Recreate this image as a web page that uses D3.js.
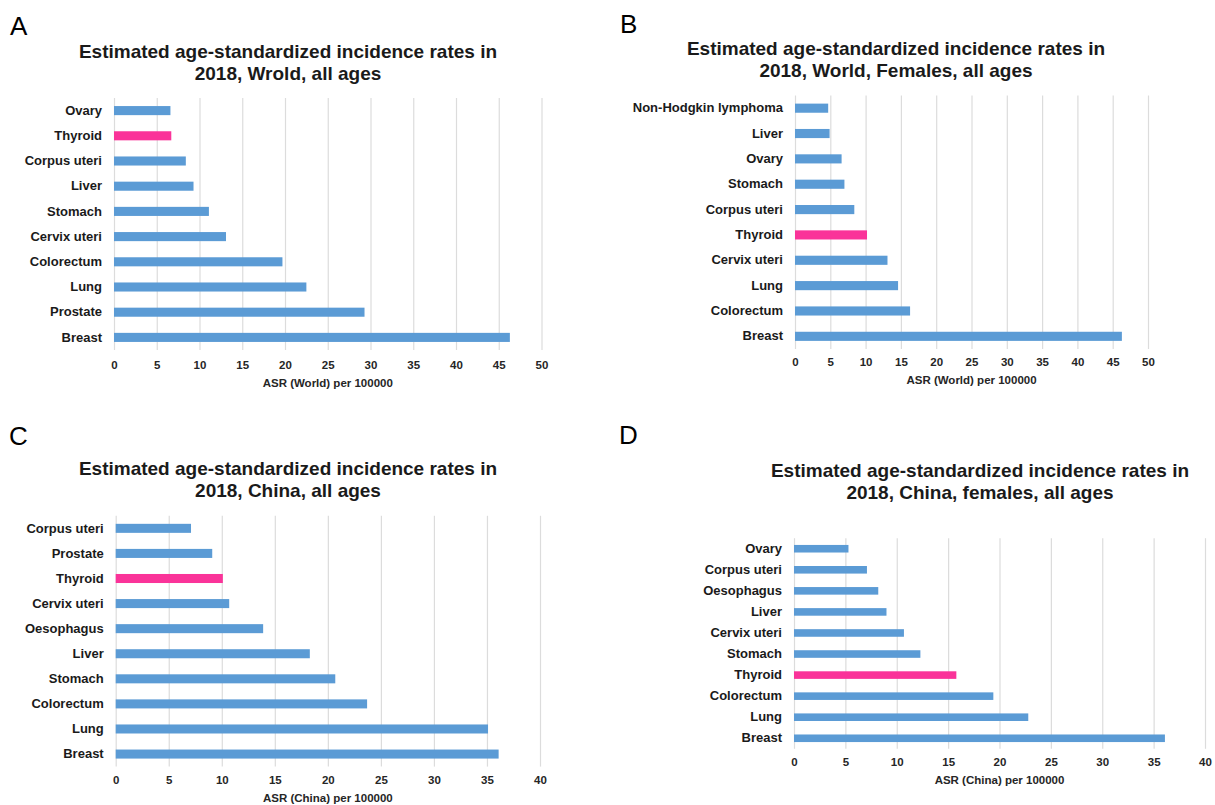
<!DOCTYPE html>
<html>
<head>
<meta charset="utf-8">
<script src="https://cdn.jsdelivr.net/npm/d3@7"></script>
<style>
  html, body { margin: 0; padding: 0; background: #ffffff; }
  svg { display: block; }
  text { font-family: "Liberation Sans", Arial, Helvetica, sans-serif; }
</style>
</head>
<body>
<svg id="chart" width="1215" height="805"></svg>
<script>
// Estimated age-standardized incidence rates (ASR per 100000), 2018.
// Categories are listed top to bottom as drawn.

const categoriesA = ["Ovary", "Thyroid", "Corpus uteri", "Liver", "Stomach", "Cervix uteri", "Colorectum", "Lung", "Prostate", "Breast"];
const valuesA     = [6.6, 6.7, 8.4, 9.3, 11.1, 13.1, 19.7, 22.5, 29.3, 46.3];

const categoriesB = ["Non-Hodgkin lymphoma", "Liver", "Ovary", "Stomach", "Corpus uteri", "Thyroid", "Cervix uteri", "Lung", "Colorectum", "Breast"];
const valuesB     = [4.7, 4.9, 6.6, 7.0, 8.4, 10.2, 13.1, 14.6, 16.3, 46.3];

const categoriesC = ["Corpus uteri", "Prostate", "Thyroid", "Cervix uteri", "Oesophagus", "Liver", "Stomach", "Colorectum", "Lung", "Breast"];
const valuesC     = [7.1, 9.1, 10.1, 10.7, 13.9, 18.3, 20.7, 23.7, 35.1, 36.1];

const categoriesD = ["Ovary", "Corpus uteri", "Oesophagus", "Liver", "Cervix uteri", "Stomach", "Thyroid", "Colorectum", "Lung", "Breast"];
const valuesD     = [5.3, 7.1, 8.2, 9.0, 10.7, 12.3, 15.8, 19.4, 22.8, 36.1];

const ticksWorld = [0, 5, 10, 15, 20, 25, 30, 35, 40, 45, 50];
const ticksChina = [0, 5, 10, 15, 20, 25, 30, 35, 40];

const titleLine1 = "Estimated age-standardized incidence rates in";
const titlesLine2 = ["2018, Wrold, all ages", "2018, World, Females, all ages", "2018, China, all ages", "2018, China, females, all ages"];
const panelLetters = ["A", "B", "C", "D"];
const axisTitles = ["ASR (World) per 100000", "ASR (World) per 100000", "ASR (China) per 100000", "ASR (China) per 100000"];
const highlighted = "Thyroid";

const BAR_BLUE = "#5b9bd5";
const BAR_PINK = "#fa3399";
const GRID = "#dcdcdc";
const INK = "#1a1a1a";

// Panel geometry (plot box and decorations)
const panels = [
  { cats: categoriesA, vals: valuesA, ticks: ticksWorld, x0: 114, x1: 541.5, top: 98, bottom: 350,
    letterX: 10, letterY: 35, titleX: 288, titleY: 58, tickY: 369, axisTitleY: 387 },
  { cats: categoriesB, vals: valuesB, ticks: ticksWorld, x0: 795, x1: 1148, top: 95.5, bottom: 349,
    letterX: 620, letterY: 33, titleX: 896, titleY: 55, tickY: 366, axisTitleY: 384 },
  { cats: categoriesC, vals: valuesC, ticks: ticksChina, x0: 115.7, x1: 540, top: 515.8, bottom: 766.6,
    letterX: 9, letterY: 445, titleX: 288, titleY: 475, tickY: 784, axisTitleY: 802 },
  { cats: categoriesD, vals: valuesD, ticks: ticksChina, x0: 794, x1: 1205, top: 538.2, bottom: 748.8,
    letterX: 619, letterY: 444, titleX: 980, titleY: 477, tickY: 766, axisTitleY: 784 }
];

const svg = d3.select("#chart");

panels.forEach((p, i) => {
  const g = svg.append("g");
  const rows = p.cats.map((c, k) => ({ cat: c, val: p.vals[k] }));

  const x = d3.scaleLinear()
    .domain([0, p.ticks[p.ticks.length - 1]])
    .range([p.x0, p.x1]);

  const y = d3.scaleBand()
    .domain(p.cats)
    .range([p.top, p.bottom])
    .paddingInner(0.64)
    .paddingOuter(0.32);

  // vertical gridlines
  g.append("g")
    .attr("transform", `translate(0,${p.bottom})`)
    .call(d3.axisBottom(x).tickValues(p.ticks).tickSize(-(p.bottom - p.top)).tickFormat(""))
    .call(a => a.select(".domain").remove())
    .call(a => a.selectAll(".tick line").attr("stroke", GRID).attr("stroke-width", 1.2));

  // bars
  g.append("g")
    .selectAll("rect")
    .data(rows)
    .join("rect")
    .attr("x", x(0))
    .attr("y", d => y(d.cat))
    .attr("width", d => x(d.val) - x(0))
    .attr("height", y.bandwidth())
    .attr("fill", d => d.cat === highlighted ? BAR_PINK : BAR_BLUE);

  // category labels
  g.append("g")
    .attr("transform", `translate(${p.x0},0)`)
    .call(d3.axisLeft(y).tickSize(0).tickPadding(12))
    .call(a => a.select(".domain").remove())
    .call(a => a.selectAll("text")
      .attr("fill", INK)
      .style("font-size", "13px")
      .style("font-weight", "bold")
      .style("font-family", "'Liberation Sans', Arial, sans-serif"));

  // value tick labels
  g.append("g")
    .attr("transform", `translate(0,${p.tickY - 4})`)
    .call(d3.axisBottom(x).tickValues(p.ticks).tickSize(0).tickPadding(0).tickFormat(d3.format("d")))
    .call(a => a.select(".domain").remove())
    .call(a => a.selectAll("text")
      .attr("fill", "#262626")
      .attr("dy", "0")
      .attr("y", 4)
      .style("font-size", "11.5px")
      .style("font-weight", "bold")
      .style("font-family", "'Liberation Sans', Arial, sans-serif"));

  // axis title
  g.append("text")
    .attr("x", (p.x0 + p.x1) / 2)
    .attr("y", p.axisTitleY)
    .attr("text-anchor", "middle")
    .attr("fill", "#262626")
    .style("font-size", "11.5px")
    .style("font-weight", "bold")
    .text(axisTitles[i]);

  // chart title
  const t = g.append("text")
    .attr("x", p.titleX)
    .attr("y", p.titleY)
    .attr("text-anchor", "middle")
    .attr("fill", INK)
    .style("font-size", "19px")
    .style("font-weight", "bold");
  t.append("tspan").attr("x", p.titleX).attr("dy", 0).text(titleLine1);
  t.append("tspan").attr("x", p.titleX).attr("dy", 22).text(titlesLine2[i]);

  // panel letter
  g.append("text")
    .attr("x", p.letterX)
    .attr("y", p.letterY)
    .attr("fill", "#000")
    .style("font-size", "26px")
    .text(panelLetters[i]);
});
</script>
</body>
</html>
